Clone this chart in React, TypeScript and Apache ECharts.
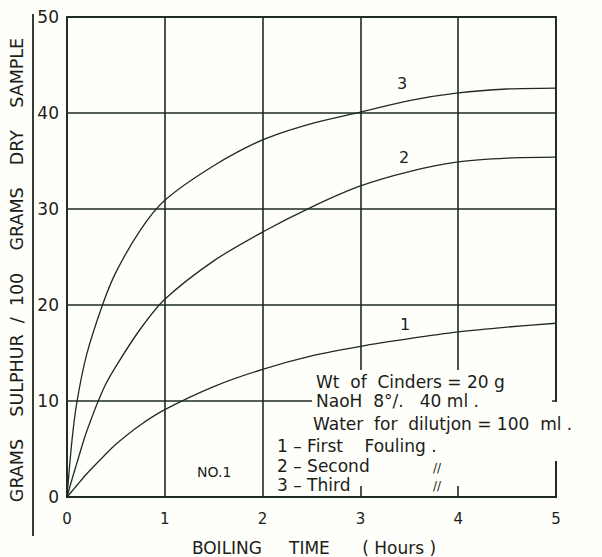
import React, { useEffect, useRef } from "react";
import * as echarts from "echarts";

const hours = [0, 0.05, 0.1, 0.2, 0.37, 0.5, 0.75, 1, 1.5, 2, 2.5, 3, 3.5, 4, 4.5, 5];
const firstFouling = [0, 0.6, 1.2, 2.4, 4.2, 5.5, 7.5, 9.1, 11.5, 13.3, 14.7, 15.7, 16.5, 17.2, 17.7, 18.1];
const secondFouling = [0, 1.8, 3.5, 6.8, 11.2, 13.6, 17.5, 20.6, 24.6, 27.6, 30.2, 32.4, 33.9, 34.9, 35.3, 35.4];
const thirdFouling = [0, 5.8, 9.8, 14.8, 20.2, 23.4, 27.8, 30.9, 34.5, 37.2, 38.9, 40.1, 41.3, 42.1, 42.5, 42.6];

const xTicks = [0, 1, 2, 3, 4, 5];
const yTicks = [0, 10, 20, 30, 40, 50];

const INK = "#1f2b1f";
const TXT = "#1b1d18";
const FONT = "DejaVu Sans";
const BG = "#fefefb";

function pairs(ys: number[]) {
  return hours.map((h, i) => [h, ys[i]]);
}

export default function App() {
  const ref = useRef<HTMLDivElement>(null);
  useEffect(() => {
    if (!ref.current) return;
    const chart = echarts.init(ref.current, undefined, { renderer: "svg" });
    const lineStyle = { color: INK, width: 1.3 };
    const txt = (x: number, y: number, text: string, size = 17, extra: any = {}) => ({
      type: "text",
      x,
      y,
      z: 110,
      style: { text, fill: TXT, font: `${size}px "${FONT}"`, textVerticalAlign: "middle", ...extra },
    });
    chart.setOption({
      animation: false,
      backgroundColor: BG,
      grid: {
        left: 67,
        top: 17,
        right: 46,
        bottom: 60,
        outerBoundsMode: "none",
        containLabel: false,
        show: true,
        borderColor: INK,
        borderWidth: 1.8,
        backgroundColor: "transparent",
      },
      xAxis: {
        type: "value",
        min: 0,
        max: 5,
        interval: 1,
        axisLine: { show: true, lineStyle: { color: INK, width: 1.8 } },
        axisTick: { show: false },
        axisLabel: {
          color: TXT,
          fontSize: 15,
          fontFamily: FONT,
          margin: 14,
          formatter: (v: number) => (xTicks.includes(v) ? String(v) : ""),
        },
        splitLine: { show: true, lineStyle: { color: INK, width: 1.6 } },
      },
      yAxis: {
        type: "value",
        min: 0,
        max: 50,
        interval: 10,
        axisLine: { show: false },
        axisTick: { show: false },
        axisLabel: {
          color: TXT,
          fontSize: 17,
          fontFamily: FONT,
          margin: 8,
          formatter: (v: number) => (yTicks.includes(v) ? String(v) : ""),
        },
        splitLine: { show: true, lineStyle: { color: INK, width: 1.6 } },
      },
      series: [
        { name: "1", type: "line", smooth: 0.3, showSymbol: false, data: pairs(firstFouling), lineStyle },
        { name: "2", type: "line", smooth: 0.3, showSymbol: false, data: pairs(secondFouling), lineStyle },
        { name: "3", type: "line", smooth: 0.3, showSymbol: false, data: pairs(thirdFouling), lineStyle },
      ],
      graphic: [
        { type: "line", z: 100, shape: { x1: 33, y1: 14, x2: 33, y2: 536 }, style: { stroke: INK, lineWidth: 1.8 } },
        {
          type: "text",
          x: 17,
          y: 270,
          rotation: Math.PI / 2,
          z: 110,
          style: {
            text: "GRAMS    SULPHUR  /  100    GRAMS    DRY    SAMPLE",
            fill: TXT,
            font: `17.5px "${FONT}"`,
            align: "center",
            verticalAlign: "middle",
          },
        },
        {
          type: "text",
          x: 314,
          y: 548,
          z: 110,
          style: {
            text: "BOILING     TIME      ( Hours )",
            fill: TXT,
            font: `17px "${FONT}"`,
            align: "center",
            verticalAlign: "middle",
          },
        },
        { type: "rect", z: 100, shape: { x: 312, y: 370, width: 240, height: 116 }, style: { fill: BG } },
        { type: "rect", z: 100, shape: { x: 550, y: 402, width: 52, height: 59 }, style: { fill: BG } },
        { type: "rect", z: 100, shape: { x: 271, y: 432, width: 45, height: 56 }, style: { fill: BG } },
        txt(397, 83, "3", 16),
        txt(399, 157, "2", 16),
        txt(400, 324, "1", 16),
        txt(316, 382, "Wt  of  Cinders = 20 g"),
        txt(316, 401, "NaoH  8°/.   40 ml ."),
        txt(313, 424, "Water  for  dilutjon = 100  ml ."),
        txt(277, 446, "1 – First    Fouling ."),
        txt(277, 466, "2 – Second"),
        txt(277, 485, "3 – Third"),
        txt(433, 468, "//", 12),
        txt(433, 486, "//", 12),
        txt(197, 472, "NO.1", 14),
      ],
    });
    return () => chart.dispose();
  }, []);
  return <div ref={ref} style={{ position: "fixed", left: 0, top: 0, width: 602, height: 557 }} />;
}
